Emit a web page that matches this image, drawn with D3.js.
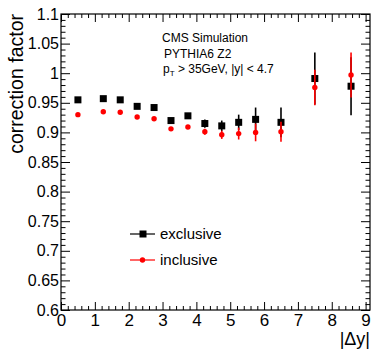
<!DOCTYPE html>
<html>
<head>
<meta charset="utf-8">
<script src="https://cdn.jsdelivr.net/npm/d3@7"></script>
<style>
  body { margin: 0; background: #fff; }
  text { font-family: "Liberation Sans", Arial, sans-serif; fill: #000; }
</style>
</head>
<body>
<svg id="chart" width="372" height="350"></svg>
<script>
// bin centres in |dy|
const dyBins = [0.5, 1.25, 1.75, 2.25, 2.75, 3.25, 3.75, 4.25, 4.75, 5.25, 5.75, 6.5, 7.5, 8.57];

const exclusive    = [0.955, 0.957, 0.955, 0.944, 0.942, 0.920, 0.928, 0.915, 0.911, 0.917, 0.922, 0.917, 0.991, 0.978];
const exclusiveErr = [0.002, 0.002, 0.002, 0.003, 0.003, 0.004, 0.004, 0.007, 0.009, 0.013, 0.020, 0.025, 0.044, 0.049];

const inclusive    = [0.930, 0.935, 0.934, 0.926, 0.923, 0.906, 0.909, 0.901, 0.896, 0.898, 0.900, 0.901, 0.976, 0.997];
const inclusiveErr = [0.002, 0.002, 0.002, 0.003, 0.003, 0.003, 0.003, 0.005, 0.007, 0.010, 0.015, 0.017, 0.030, 0.038];

const xTicks = [0, 1, 2, 3, 4, 5, 6, 7, 8, 9];
const yTicks = [0.6, 0.65, 0.7, 0.75, 0.8, 0.85, 0.9, 0.95, 1, 1.05, 1.1];
const yTickLabels = ["0.6", "0.65", "0.7", "0.75", "0.8", "0.85", "0.9", "0.95", "1", "1.05", "1.1"];

const svg = d3.select("#chart");

const padL = 61, padR = 370, padT = 14, padB = 310;

const x = d3.scaleLinear().domain([0, 9.13]).range([padL, padR]);
const y = d3.scaleLinear().domain([0.6, 1.1]).range([padB, padT]);

const xMinor = d3.range(0, 9.13, 0.2).filter(v => Math.abs(v - Math.round(v)) > 1e-6);
const yMinor = d3.range(0.6, 1.1, 0.01).filter(v => Math.abs(v * 20 - Math.round(v * 20)) > 1e-6);

// frame
svg.append("rect")
    .attr("x", padL).attr("y", padT)
    .attr("width", padR - padL).attr("height", padB - padT)
    .attr("fill", "none").attr("stroke", "#000").attr("stroke-width", 1.2);

// bottom axis, ticks pointing inwards
const gx = svg.append("g").attr("transform", `translate(0,${padB})`)
    .call(d3.axisBottom(x).tickValues(xTicks).tickSize(-8).tickPadding(4).tickFormat(d3.format("d")));
svg.append("g").attr("transform", `translate(0,${padB})`)
    .call(d3.axisBottom(x).tickValues(xMinor).tickSize(-4).tickFormat(""));
// top ticks
svg.append("g").attr("transform", `translate(0,${padT})`)
    .call(d3.axisTop(x).tickValues(xTicks).tickSize(-8).tickFormat(""));
svg.append("g").attr("transform", `translate(0,${padT})`)
    .call(d3.axisTop(x).tickValues(xMinor).tickSize(-4).tickFormat(""));

// left axis
const gy = svg.append("g").attr("transform", `translate(${padL},0)`)
    .call(d3.axisLeft(y).tickValues(yTicks).tickSize(-9).tickPadding(2)
        .tickFormat((d, i) => yTickLabels[i]));
svg.append("g").attr("transform", `translate(${padL},0)`)
    .call(d3.axisLeft(y).tickValues(yMinor).tickSize(-4.5).tickFormat(""));
// right ticks
svg.append("g").attr("transform", `translate(${padR},0)`)
    .call(d3.axisRight(y).tickValues(yTicks).tickSize(-9).tickFormat(""));
svg.append("g").attr("transform", `translate(${padR},0)`)
    .call(d3.axisRight(y).tickValues(yMinor).tickSize(-4.5).tickFormat(""));

svg.selectAll(".domain").remove();
svg.selectAll(".tick line").attr("stroke", "#000").attr("stroke-width", 1);
gx.selectAll("text").attr("font-size", 17).attr("font-family", "Liberation Sans");
gy.selectAll("text").attr("font-size", 16).attr("font-family", "Liberation Sans");

// axis titles
svg.append("text")
    .attr("transform", `translate(23,${padT}) rotate(-90)`)
    .attr("text-anchor", "end")
    .attr("font-size", 19.5)
    .text("correction factor");

svg.append("text")
    .attr("x", padR).attr("y", 345)
    .attr("text-anchor", "end")
    .attr("font-size", 18)
    .text("|Δy|");

// annotation
const note = svg.append("g").attr("font-size", 12);
note.append("text").attr("x", 162).attr("y", 41.5).text("CMS Simulation");
note.append("text").attr("x", 164).attr("y", 57.5).text("PYTHIA6 Z2");
const pt = note.append("text").attr("x", 163).attr("y", 73);
pt.append("tspan").text("p");
pt.append("tspan").attr("font-size", 8).attr("dy", 3).text("T");
pt.append("tspan").attr("dy", -3).text(" > 35GeV, |y| < 4.7");

// error bars and markers
function drawSeries(vals, errs, color, shape) {
    const g = svg.append("g");
    g.selectAll("line.err").data(vals).join("line")
        .attr("class", "err")
        .attr("x1", (d, i) => x(dyBins[i])).attr("x2", (d, i) => x(dyBins[i]))
        .attr("y1", (d, i) => y(d - errs[i])).attr("y2", (d, i) => y(d + errs[i]))
        .attr("stroke", color).attr("stroke-width", 1.6);
    if (shape === "square") {
        g.selectAll("rect").data(vals).join("rect")
            .attr("x", (d, i) => x(dyBins[i]) - 3.5).attr("y", d => y(d) - 3.5)
            .attr("width", 7).attr("height", 7).attr("fill", color);
    } else {
        g.selectAll("circle").data(vals).join("circle")
            .attr("cx", (d, i) => x(dyBins[i])).attr("cy", d => y(d))
            .attr("r", 2.7).attr("fill", color);
    }
}
drawSeries(exclusive, exclusiveErr, "#000", "square");
drawSeries(inclusive, inclusiveErr, "#ff0000", "circle");

// legend
const legend = svg.append("g").attr("font-size", 15);
[["exclusive", "#000", "square", 234], ["inclusive", "#ff0000", "circle", 260]].forEach(([name, color, shape, ly]) => {
    legend.append("line").attr("x1", 130).attr("x2", 155).attr("y1", ly).attr("y2", ly)
        .attr("stroke", color).attr("stroke-width", 1.2);
    if (shape === "square")
        legend.append("rect").attr("x", 139.5).attr("y", ly - 3.5).attr("width", 7).attr("height", 7).attr("fill", color);
    else
        legend.append("circle").attr("cx", 142.5).attr("cy", ly).attr("r", 2.7).attr("fill", color);
    legend.append("text").attr("x", 160).attr("y", ly + 5).text(name);
});
</script>
</body>
</html>
